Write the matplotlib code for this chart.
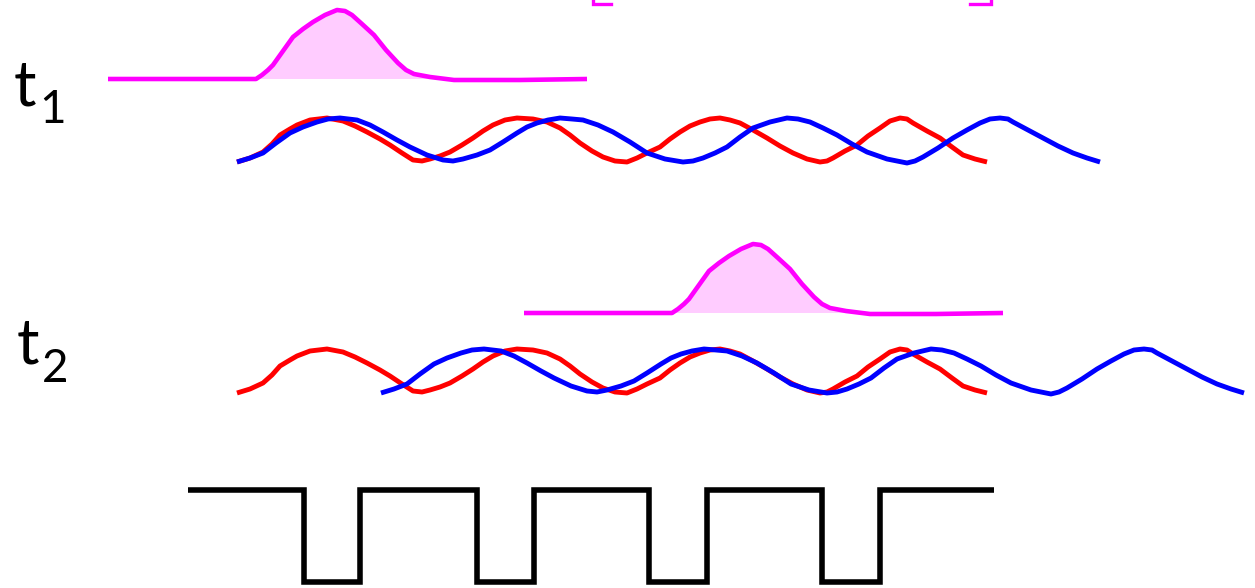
import numpy as np
import matplotlib.pyplot as plt

# 그림 전체를 픽셀 좌표(1255 x 588)로 다룬다
W, H = 1255, 588

# 펄스(마젠타) 모양 - t1 위치 기준
pulse_x = [108, 256, 262, 268, 273, 283, 293, 303, 313, 325, 337, 345, 352, 362,
           374, 386, 398, 406, 414, 430, 454, 480, 520, 587]
pulse_y = [79, 79, 75, 70, 65, 51, 37, 29, 22, 15, 10, 11, 15, 24,
           35, 50, 63, 70, 74, 77, 80, 80, 80, 79]
pulse_base = 79
pulse2_shift = (416, 234)

# 빨간 파형 (t1 행)
red_x = [237, 250, 263, 272, 280, 290, 297, 310, 327, 343, 355, 367, 380, 390,
         402, 413, 422, 430, 440, 450, 462, 473, 483, 493, 505, 517, 533, 547,
         560, 570, 580, 592, 603, 615, 627, 637, 647, 660, 670, 680, 690, 700,
         710, 720, 730, 740, 753, 767, 780, 793, 807, 820, 827, 833, 845, 857,
         868, 880, 890, 900, 907, 913, 927, 940, 952, 963, 975, 987]
red_y = [162, 158, 152, 144, 135, 129, 125, 120, 118, 121, 126, 132, 139, 145,
         153, 160, 161, 159, 156, 152, 145, 138, 131, 125, 120, 118, 119, 122,
         128, 135, 143, 151, 157, 161, 162, 158, 153, 147, 139, 132, 126, 122,
         119, 118, 120, 123, 130, 138, 146, 153, 159, 162, 161, 158, 151, 145,
         136, 128, 121, 118, 119, 123, 131, 138, 147, 155, 159, 162]

# 파란 파형 (t1 행)
blue_x = [237, 250, 263, 276, 290, 303, 317, 328, 340, 357, 370, 383, 397, 410,
          427, 443, 453, 463, 477, 490, 503, 517, 527, 537, 548, 560, 572, 583,
          598, 613, 630, 647, 665, 683, 693, 703, 715, 727, 740, 753, 770, 787,
          798, 810, 823, 837, 852, 867, 887, 907, 915, 923, 938, 953, 967, 980,
          990, 1000, 1008, 1013, 1028, 1043, 1058, 1073, 1087, 1100]
blue_y = [162, 158, 153, 143, 133, 127, 122, 119, 118, 120, 125, 132, 140, 147,
          155, 160, 161, 159, 155, 150, 142, 133, 127, 123, 120, 118, 119, 120,
          125, 132, 142, 153, 159, 162, 161, 158, 153, 147, 137, 128, 122, 118,
          119, 122, 128, 135, 144, 152, 159, 163, 161, 157, 148, 138, 130, 123,
          119, 118, 119, 122, 130, 138, 146, 153, 158, 162]

# t2 행: 빨강은 그대로 아래로, 파랑은 오른쪽으로 이동
row2_dy = 231
blue2_dx = 144

# 아래쪽 사각파
square_edges = [188, 304, 360, 477, 534, 649, 707, 822, 880, 994]
square_high, square_low = 490, 582

# 위쪽 잘린 괄호
bracket_left = [(593, -6), (593, 4), (611, 4)]
bracket_right = [(970, 4), (991, 4), (991, -6)]

labels = [("t", "1", (14, 105), (39, 123)), ("t", "2", (17, 363), (42, 382))]

MAGENTA = "#ff00ff"
PINK = "#ffccff"

fig = plt.figure(figsize=(W / 100, H / 100), dpi=100)
ax = fig.add_axes([0, 0, 1, 1])
ax.set_xlim(0, W)
ax.set_ylim(H, 0)
ax.axis("off")

# 마젠타 펄스 두 개
for dx, dy in [(0, 0), pulse2_shift]:
    px = np.array(pulse_x) + dx
    py = np.array(pulse_y) + dy
    base = pulse_base + dy
    ax.fill_between(px, py, base, where=py <= base, color=PINK, lw=0, interpolate=True)
    ax.plot(px, py, color=MAGENTA, lw=3.3, solid_capstyle="butt")

# 파형들
for dy in [0, row2_dy]:
    ax.plot(red_x, np.array(red_y) + dy, color="red", lw=3.5, solid_capstyle="butt")
ax.plot(blue_x, blue_y, color="blue", lw=3.5, solid_capstyle="butt")
ax.plot(np.array(blue_x) + blue2_dx, np.array(blue_y) + row2_dy,
        color="blue", lw=3.5, solid_capstyle="butt")

# 사각파
sq_x, sq_y = [square_edges[0]], [square_high]
level = square_high
for e in square_edges[1:-1]:
    sq_x += [e, e]
    nxt = square_low if level == square_high else square_high
    sq_y += [level, nxt]
    level = nxt
sq_x.append(square_edges[-1])
sq_y.append(level)
ax.plot(sq_x, sq_y, color="black", lw=4.0, solid_joinstyle="miter", solid_capstyle="butt")

# 괄호
for pts in [bracket_left, bracket_right]:
    bx, by = zip(*pts)
    ax.plot(bx, by, color=MAGENTA, lw=2.4, solid_joinstyle="miter")

# t1, t2 라벨
for main, sub, pos_main, pos_sub in labels:
    ax.text(pos_main[0], pos_main[1], main, fontsize=45, family="Lato",
            ha="left", va="baseline")
    ax.text(pos_sub[0], pos_sub[1], sub, fontsize=33, family="Lato",
            ha="left", va="baseline")

fig.savefig("out.png", dpi=100)
